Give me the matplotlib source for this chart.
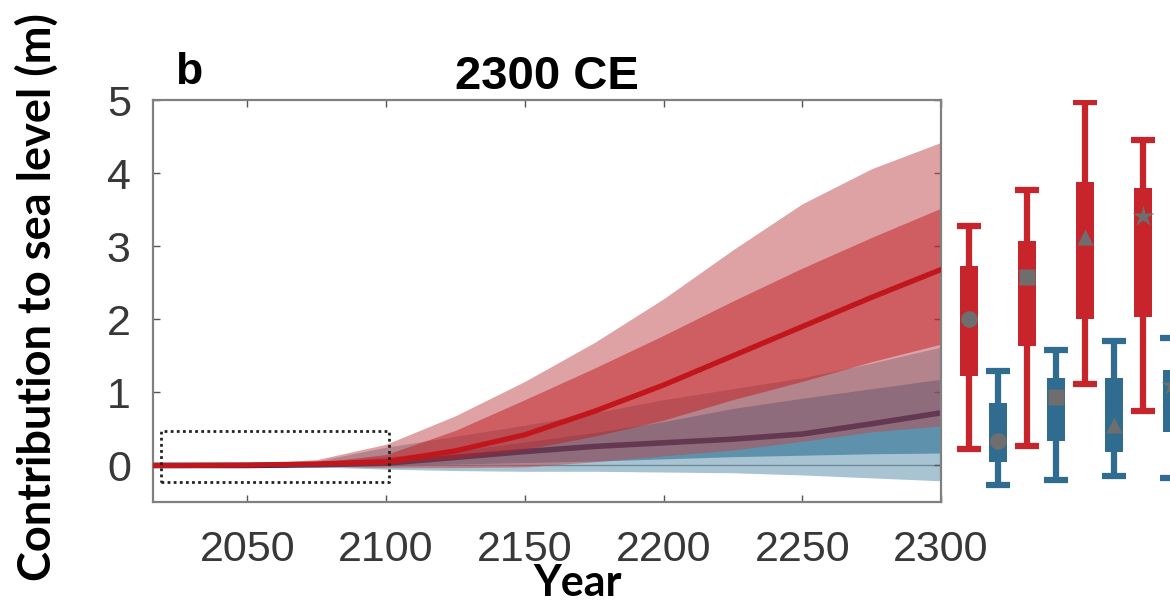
import numpy as np
import matplotlib.pyplot as plt

# projection time series (m)
years = [2016, 2025, 2050, 2075, 2100, 2125, 2150, 2175, 2200, 2225, 2250, 2275, 2300]
red_med = [0, 0, 0.005, 0.02, 0.05, 0.2, 0.42, 0.74, 1.1, 1.5, 1.9, 2.3, 2.68]
red_hi95 = [0, 0.005, 0.02, 0.08, 0.29, 0.68, 1.15, 1.68, 2.28, 2.95, 3.58, 4.06, 4.42]
red_hi83 = [0, 0, 0.01, 0.04, 0.15, 0.48, 0.9, 1.33, 1.78, 2.25, 2.7, 3.12, 3.52]
red_lo17 = [0, 0, 0, 0.005, 0.02, 0.1, 0.22, 0.4, 0.62, 0.9, 1.15, 1.42, 1.66]
red_lo5 = [0, 0, 0, -0.01, -0.03, -0.03, -0.02, 0.05, 0.13, 0.21, 0.33, 0.46, 0.54]
blue_med = [0, 0, 0, 0.01, 0.03, 0.11, 0.19, 0.26, 0.31, 0.36, 0.43, 0.57, 0.72]
blue_hi95 = [0, 0, 0.01, 0.06, 0.25, 0.4, 0.55, 0.72, 0.9, 1.05, 1.2, 1.4, 1.62]
blue_hi83 = [0, 0, 0.005, 0.03, 0.12, 0.2, 0.32, 0.45, 0.6, 0.78, 0.92, 1.05, 1.18]
blue_lo17 = [0, 0, 0, 0, 0, 0.02, 0.04, 0.06, 0.09, 0.12, 0.14, 0.16, 0.17]
blue_lo5 = [0, 0, 0, -0.02, -0.05, -0.07, -0.08, -0.08, -0.09, -0.1, -0.13, -0.17, -0.21]

# box plots at 2300 (alternating red / blue scenarios)
box_wlo = [0.23, -0.27, 0.26, -0.2, 1.12, -0.14, 0.74, -0.17]
box_qlo = [1.23, 0.05, 1.63, 0.33, 2.01, 0.19, 2.03, 0.46]
box_mid = [2.01, 0.33, 2.58, 0.93, 3.12, 0.56, 3.41, 1.1]
box_qhi = [2.73, 0.86, 3.07, 1.19, 3.88, 1.2, 3.79, 1.31]
box_whi = [3.27, 1.29, 3.77, 1.58, 4.97, 1.70, 4.45, 1.74]
box_mark = ['o', 'o', 's', 's', '^', '^', '*', '*']

RED = '#c8242b'
BLUE = '#2f6c8f'

fig = plt.figure(figsize=(11.7, 6.06), dpi=100)
ax = fig.add_axes([153/1170, 1-502/606, (941-153)/1170, (502-100)/606])

ax.axhline(0, color='#8a8a8a', lw=1, zorder=0.5)
ax.fill_between(years, blue_lo5, blue_hi95, color='#5389a5', alpha=0.5, lw=0, zorder=1)
ax.fill_between(years, blue_lo17, blue_hi83, color='#156288', alpha=0.5, lw=0, zorder=1.1)
ax.plot(years, blue_med, color='#0a2a5a', lw=4, zorder=1.2)
ax.fill_between(years, red_lo5, red_hi95, color='#c1474b', alpha=0.5, lw=0, zorder=2)
ax.fill_between(years, red_lo17, red_hi83, color='#be1b1f', alpha=0.5, lw=0, zorder=2.1)
ax.plot(years, red_med, color='#c1161c', lw=3.8, zorder=3)

# dotted zoom box
ax.plot([2019, 2101, 2101, 2019, 2019], [-0.22, -0.22, 0.47, 0.47, -0.22],
        color='#222222', ls=(0, (1, 1.2)), lw=2, zorder=4)

ax.set_xlim(2016, 2300)
ax.set_ylim(-0.5, 5)
ax.set_xticks([2050, 2100, 2150, 2200, 2250, 2300])
ax.set_yticks([0, 1, 2, 3, 4, 5])
ax.tick_params(direction='in', length=5, width=1, color='#555555',
               top=True, right=True, labelsize=31, labelcolor='#383838')
ax.tick_params(axis='x', pad=20)
ax.tick_params(axis='y', pad=16)
for lab in ax.get_xticklabels() + ax.get_yticklabels():
    lab.set_family('Liberation Sans')
for s in ax.spines.values():
    s.set_color('#808080')
    s.set_linewidth(1.6)

ax.set_title('2300 CE', fontsize=34, fontweight='bold', family='Liberation Sans', pad=8)
fig.text(175/1170, 1-84/606, 'b', fontsize=32, fontweight='bold',
         family='Liberation Sans', ha='left', va='baseline')
fig.text(578/1170, 3/606, 'Year', fontsize=31, fontweight='bold', family='Lato',
         ha='center', va='bottom')
fig.text(37/1170, 0.51, 'Contribution to sea level (m)', fontsize=32.5, fontweight='bold',
         family='Lato', rotation=90, ha='center', va='center')

# box plot panel outside the main axes
bx = fig.add_axes([945/1170, 1-502/606, (1170-945)/1170, (502-100)/606])
bx.set_ylim(-0.5, 5)
bx.set_xlim(-24/29, 7 - 2/29)
bx.axis('off')
for i in range(len(box_mid)):
    c = RED if i % 2 == 0 else BLUE
    bx.vlines(i, box_wlo[i], box_whi[i], color=c, lw=4.5)
    bx.hlines([box_wlo[i], box_whi[i]], i - 0.4, i + 0.4, color=c, lw=4.5)
    bx.bar(i, box_qhi[i] - box_qlo[i], bottom=box_qlo[i], width=0.62, color=c)
    ms = 16 if box_mark[i] == '*' else 12
    bx.plot(i, box_mid[i], marker=box_mark[i], color='#6e6e6e', ms=ms, mec='none')

fig.savefig('out.png', dpi=100)
